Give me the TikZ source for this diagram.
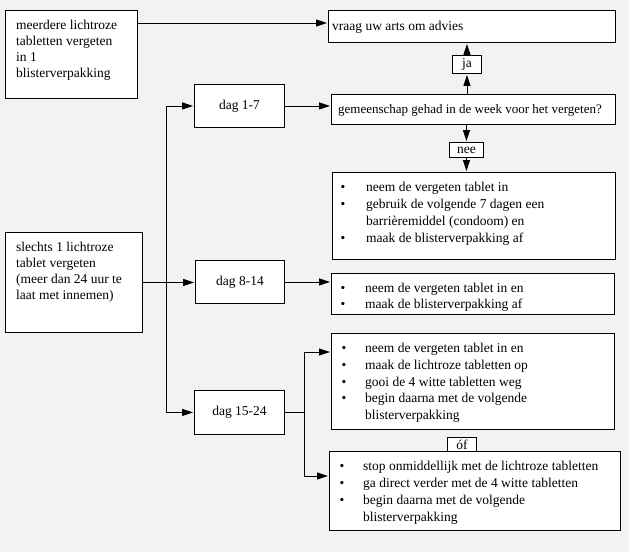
\documentclass[tikz,border=0pt]{standalone}
\usepackage{fontspec}
\setmainfont{Liberation Serif}
\usetikzlibrary{arrows.meta,calc}
\definecolor{bgcol}{HTML}{F2F2F2}
\begin{document}
\begin{tikzpicture}[x=1pt,y=-1pt,
  box/.style={draw=black, fill=white, line width=0.9pt, inner sep=0pt, anchor=north west},
  txt/.style={inner sep=0pt, anchor=base west, font=\fontsize{13.5}{16}\selectfont},
  lbl/.style={inner sep=0pt, font=\fontsize{13.5}{16}\selectfont},
  arr/.style={line width=0.9pt, shorten >=1pt, -{Triangle[length=11pt,width=7pt]}},
  ln/.style={line width=0.9pt}]
\fill[bgcol] (0,0) rectangle (629,552);
\useasboundingbox (0,0) rectangle (629,552);
% boxes
\node[box, minimum width=132, minimum height=88] (meer) at (5,10) {};
\node[box, minimum width=287, minimum height=32] (vraag) at (328,10) {};
\node[box, minimum width=90, minimum height=43] (dag17) at (194,84) {};
\node[box, minimum width=284, minimum height=30] (gem) at (331,94) {};
\node[box, minimum width=29, minimum height=18] (ja) at (452,55) {};
\node[box, minimum width=34, minimum height=15] (nee) at (449,142) {};
\node[box, minimum width=283, minimum height=87] (b1) at (332,172) {};
\node[box, minimum width=137, minimum height=100] (slechts) at (5,232) {};
\node[box, minimum width=89, minimum height=43] (dag814) at (195,260) {};
\node[box, minimum width=283, minimum height=41] (b2) at (331,273) {};
\node[box, minimum width=283, minimum height=96] (b3) at (331,333) {};
\node[box, minimum width=90, minimum height=44] (dag1524) at (194,390) {};
\node[box, minimum width=291, minimum height=79] (b4) at (329,451) {};
\node[box, minimum width=29, minimum height=14] (of) at (447,437) {};
% labels
\node[txt] (vraagt) at (332,30.5) {vraag uw arts om advies};
\node[txt, font=\fontsize{13}{16}\selectfont] (gemt) at (338,113) {gemeenschap gehad in de week voor het vergeten?};
\node[lbl] (jat) at (ja.center) {ja};
\node[lbl] (neet) at (nee.center) {nee};
\node[lbl] (oft) at (of.center) {óf};
\node[lbl] (dag17t) at (dag17.center) {dag 1-7};
\node[lbl] (dag814t) at (dag814.center) {dag 8-14};
\node[lbl] (dag1524t) at (dag1524.center) {dag 15-24};
\foreach \s [count=\i] in {{meerdere lichtroze}, {tabletten vergeten}, {in 1}, {blisterverpakking}}
  \node[txt] (meer-\i) at (16,{29+16*(\i-1)}) {\s};
\foreach \s [count=\i] in {{slechts 1 lichtroze}, {tablet vergeten}, {(meer dan 24 uur te}, {laat met innemen)}}
  \node[txt] (sl-\i) at (16,{251+16*(\i-1)}) {\s};
\foreach \b/\s [count=\i] in {1/{neem de vergeten tablet in}, 1/{gebruik de volgende 7 dagen een}, 0/{barrièremiddel (condoom) en}, 1/{maak de blisterverpakking af}}{
  \node[txt] (ba-\i) at (366,{191+17*(\i-1)}) {\s};
  \ifnum\b=1 \node[lbl, anchor=base] (ba-d\i) at (343,{191+17*(\i-1)}) {\textbullet};\fi
}
\foreach \b/\s [count=\i] in {1/{neem de vergeten tablet in en}, 1/{maak de blisterverpakking af}}{
  \node[txt] (bb-\i) at (365,{292+16.7*(\i-1)}) {\s};
  \ifnum\b=1 \node[lbl, anchor=base] (bb-d\i) at (343,{292+16.7*(\i-1)}) {\textbullet};\fi
}
\foreach \b/\s [count=\i] in {1/{neem de vergeten tablet in en}, 1/{maak de lichtroze tabletten op}, 1/{gooi de 4 witte tabletten weg}, 1/{begin daarna met de volgende}, 0/{blisterverpakking}}{
  \node[txt] (bc-\i) at (365,{352.5+16.8*(\i-1)}) {\s};
  \ifnum\b=1 \node[lbl, anchor=base] (bc-d\i) at (344,{352.5+16.8*(\i-1)}) {\textbullet};\fi
}
\foreach \b/\s [count=\i] in {1/{stop onmiddellijk met de lichtroze tabletten}, 1/{ga direct verder met de 4 witte tabletten}, 1/{begin daarna met de volgende}, 0/{blisterverpakking}}{
  \node[txt] (bd-\i) at (363,{470+17*(\i-1)}) {\s};
  \ifnum\b=1 \node[lbl, anchor=base] (bd-d\i) at (342,{470+17*(\i-1)}) {\textbullet};\fi
}
% connectors
\draw[arr] ([yshift=-13pt]meer.north east) -- ([yshift=-13pt]meer.north east -| vraag.west);
\path (slechts.east) ++(24,0) coordinate (j1);
\draw[arr] (slechts.east) -- (slechts.east -| dag814.west);
\draw[arr] (j1) |- (dag17.west);
\draw[arr] (j1) |- (dag1524.west);
\draw[arr] (dag17.east) -- (dag17.east -| gem.west);
\draw[arr] (gem.north -| ja.south) -- (ja.south);
\draw[arr] (ja.north) -- (ja.north |- vraag.south);
\draw[arr] (gem.south -| nee.north) -- (nee.north);
\draw[arr] (nee.south) -- (nee.south |- b1.north);
\draw[arr] (dag814.east) -- (dag814.east -| b2.west);
\path (dag1524.east) ++(20,0) coordinate (j2);
\draw[ln] (dag1524.east) -- (j2);
\draw[arr] (j2) |- ([yshift=-19pt]b3.north west);
\draw[arr] (j2) |- ([yshift=-25pt]b4.north west);
\end{tikzpicture}
\end{document}
